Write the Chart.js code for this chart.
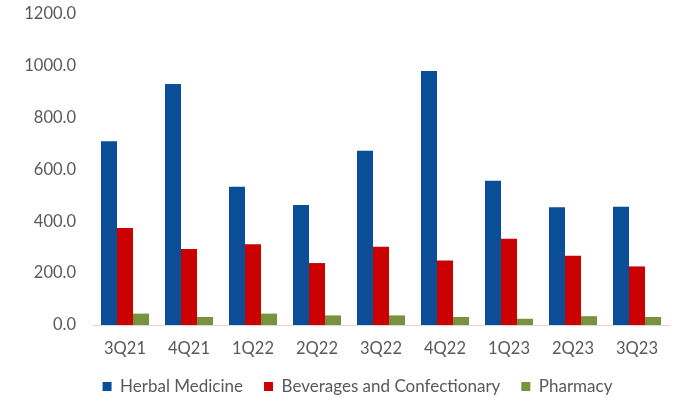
<!DOCTYPE html>
<html>
<head>
<meta charset="utf-8">
<script src="https://cdn.jsdelivr.net/npm/chart.js@4/dist/chart.umd.min.js"></script>
<style>
  html, body { margin: 0; padding: 0; background: #ffffff; }
  #wrap { width: 683px; height: 398px; }
</style>
</head>
<body>
<div id="wrap"><canvas id="c" width="683" height="398"></canvas></div>
<script>
const quarters = ['3Q21', '4Q21', '1Q22', '2Q22', '3Q22', '4Q22', '1Q23', '2Q23', '3Q23'];
const herbalMedicine = [709, 930, 533, 463, 672, 980, 557, 454, 456];
const beverages = [374, 293, 312, 239, 302, 249, 333, 267, 226];
const pharmacy = [44, 31, 44, 37, 37, 31, 24, 34, 31];

const FONT = 'Lato, "Liberation Sans", sans-serif';
const TEXT = '#595959';

// Nudge the legend row to the right so it sits under the plot area
const legendShift = {
  id: 'legendShift',
  afterLayout(chart) {
    if (chart.legend) {
      chart.legend.left += 23;
      chart.legend.right += 23;
    }
  }
};

new Chart(document.getElementById('c'), {
  type: 'bar',
  data: {
    labels: quarters,
    datasets: [
      { label: 'Herbal Medicine', data: herbalMedicine, backgroundColor: '#0B4E98' },
      { label: 'Beverages and Confectionary', data: beverages, backgroundColor: '#CC0000' },
      { label: 'Pharmacy', data: pharmacy, backgroundColor: '#77933C' }
    ]
  },
  plugins: [legendShift],
  options: {
    responsive: false,
    animation: false,
    devicePixelRatio: 1,
    layout: { padding: { left: 0, right: 14, top: 14, bottom: -7 } },
    datasets: { bar: { categoryPercentage: 0.75, barPercentage: 1.0 } },
    plugins: {
      tooltip: { enabled: false },
      legend: {
        position: 'bottom',
        labels: {
          boxWidth: 9, boxHeight: 9, padding: 21,
          color: TEXT,
          font: { family: FONT, size: 17 }
        }
      }
    },
    scales: {
      x: {
        afterFit: (s) => { s.height = 32; },
        grid: { display: false, drawTicks: false },
        border: { display: true, color: '#D9D9D9', width: 1 },
        ticks: { color: TEXT, font: { family: FONT, size: 16.5 }, padding: 14, maxRotation: 0 }
      },
      y: {
        min: 0, max: 1200,
        afterFit: (s) => { s.width = 93; },
        grid: { display: false, drawTicks: true, tickLength: 17 },
        border: { display: false },
        ticks: {
          stepSize: 200, color: TEXT, padding: 0,
          font: { family: FONT, size: 16.5 },
          callback: (v) => Number(v).toFixed(1)
        }
      }
    }
  }
});
</script>
</body>
</html>
